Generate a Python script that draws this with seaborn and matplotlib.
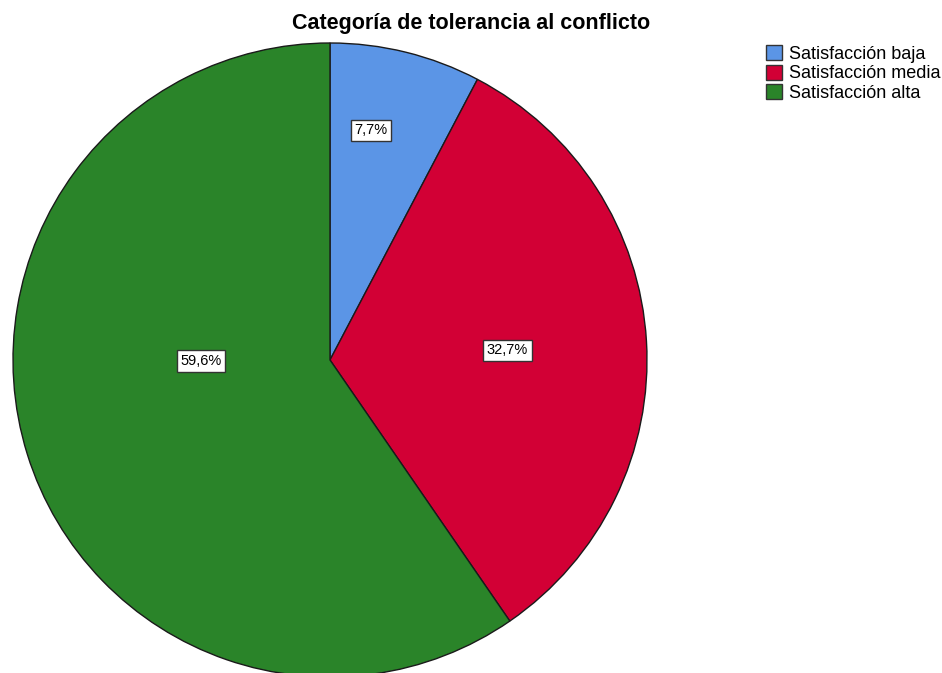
import matplotlib
matplotlib.use("Agg")
import matplotlib.pyplot as plt
import matplotlib.patches as mpatches
import seaborn as sns

categories = ["Satisfacción baja", "Satisfacción media", "Satisfacción alta"]
percentages = [7.7, 32.7, 59.6]
colors = ["#5b95e6", "#d20035", "#2a8429"]
# label anchor points in axes units (pie radius = 1)
label_xy = [(0.13, 0.725), (0.56, 0.03), (-0.407, -0.003)]

sns.set_theme(style="white")
plt.rcParams["font.family"] = ["Liberation Sans", "DejaVu Sans"]
plt.rcParams["text.color"] = "black"

fig = plt.figure(figsize=(9.42, 6.73), dpi=100)
W, H = 942, 673
cx, cy, r = 330, 360, 317
ax = fig.add_axes([(cx - r) / W, (H - cy - r) / H, 2 * r / W, 2 * r / H])

wedges, _ = ax.pie(
    percentages,
    colors=colors,
    startangle=90,
    counterclock=False,
    radius=1,
    wedgeprops=dict(edgecolor="#1a1a1a", linewidth=1.0),
)
ax.set_xlim(-1, 1)
ax.set_ylim(-1, 1)
ax.set_aspect("equal")
ax.axis("off")

for p, (x, y) in zip(percentages, label_xy):
    ax.text(x, y, f"{p:.1f}%".replace(".", ","), ha="center", va="center",
            fontsize=10.5, color="black",
            bbox=dict(boxstyle="square,pad=0.25", facecolor="white",
                      edgecolor="#333333", linewidth=1.0))

fig.text(471 / W, 1 - 24 / H, "Categoría de tolerancia al conflicto",
         ha="center", va="center", fontsize=15.5, fontweight="bold", color="black")

handles = [mpatches.Patch(facecolor=c, edgecolor="#333333", linewidth=1.0, label=l)
           for c, l in zip(colors, categories)]
fig.legend(handles=handles, loc="upper left", bbox_to_anchor=(766 / W, 1 - 45 / H),
           frameon=False, fontsize=13, handlelength=0.9, handleheight=0.9,
           handletextpad=0.35, labelspacing=0.1, borderpad=0.0, borderaxespad=0,
           labelcolor="black")

fig.savefig("out.png", dpi=100)
